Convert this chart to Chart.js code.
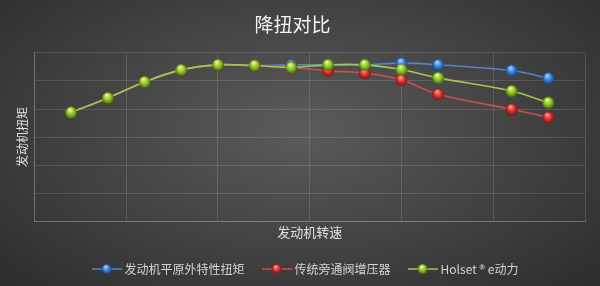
<!DOCTYPE html>
<html>
<head>
<meta charset="utf-8">
<script src="https://cdn.jsdelivr.net/npm/chart.js@4/dist/chart.umd.min.js"></script>
<style>
  html, body { margin: 0; padding: 0; }
  #wrap {
    width: 600px; height: 286px; position: relative;
    background: radial-gradient(ellipse 70% 80% at 50% 45%, #5b5b5b 0%, #464646 45%, #2c2c2c 100%);
  }
</style>
</head>
<body>
<div id="wrap"><canvas id="chart" width="600" height="286"></canvas></div>
<script>
// engine speed (rpm) and torque readings
const rpm = [700, 900, 1100, 1300, 1500, 1700, 1900, 2100, 2300, 2500, 2700, 3100, 3300];
const plainTorque = [1938, 2196, 2482, 2696, 2786, 2773, 2786, 2786, 2786, 2816, 2786, 2684, 2548];
const bypassTorque = [1938, 2196, 2482, 2696, 2786, 2773, 2741, 2679, 2638, 2518, 2263, 1995, 1852];
const holsetTorque = [1938, 2196, 2482, 2696, 2786, 2773, 2741, 2786, 2786, 2702, 2554, 2321, 2113];

const seriesNames = ['发动机平原外特性扭矩', '传统旁通阀增压器', 'Holset ® e动力'];
const lineColors = ['#4f86c6', '#c9504c', '#a8c34e'];
const ballColors = [
    ['#a9d0ff', '#3b7fd6', '#1a4485'],
    ['#ff9d99', '#d8322c', '#7e1512'],
    ['#e3ff9a', '#8fc42a', '#4c6e0c'],
];

const FONT = '"Noto Sans CJK SC", "Noto Sans", sans-serif';

// small shaded ball used as point marker
const makeBall = (cols, r) => {
    const c = document.createElement('canvas');
    c.width = r * 2 + 2;
    c.height = r * 2 + 2;
    const g = c.getContext('2d');
    const cx = r + 1, cy = r + 1;
    const grad = g.createRadialGradient(cx - r * 0.2, cy - r * 0.5, 0.5, cx, cy, r);
    grad.addColorStop(0, cols[0]);
    grad.addColorStop(0.55, cols[1]);
    grad.addColorStop(1, cols[2]);
    g.fillStyle = grad;
    g.beginPath();
    g.arc(cx, cy, r, 0, Math.PI * 2);
    g.fill();
    return c;
};

// line + ball for the legend
const makeLegendMark = (lineCol, cols) => {
    const c = document.createElement('canvas');
    c.width = 30;
    c.height = 12;
    const g = c.getContext('2d');
    g.strokeStyle = lineCol;
    g.lineWidth = 1.5;
    g.beginPath();
    g.moveTo(0, 6);
    g.lineTo(30, 6);
    g.stroke();
    g.drawImage(makeBall(cols, 5), 15 - 6, 0);
    return c;
};

const balls = ballColors.map(cols => makeBall(cols, 6));
const legendMarks = ballColors.map((cols, i) => makeLegendMark(lineColors[i], cols));

const toPoints = (ys) => ys.map((y, i) => ({ x: rpm[i], y: y }));
const allSeries = [plainTorque, bypassTorque, holsetTorque];

const datasets = allSeries.map((ys, i) => ({
    label: seriesNames[i],
    data: toPoints(ys),
    borderColor: lineColors[i],
    borderWidth: 1.6,
    tension: 0.35,
    pointStyle: balls[i],
    pointRadius: 6,
    fill: false,
    order: 3 - i, // green drawn on top
}));

const gridColor = 'rgba(255,255,255,0.13)';

// nudge the legend a bit right, like the original
const legendShift = {
    id: 'legendShift',
    afterLayout: (chart) => {
        chart.legend.left += 14;
        chart.legend.right += 14;
    },
};

new Chart(document.getElementById('chart'), {
    type: 'line',
    data: { datasets: datasets },
    plugins: [legendShift],
    options: {
        responsive: false,
        animation: false,
        layout: { padding: { left: 0, right: 15, top: 0, bottom: 1 } },
        scales: {
            x: {
                type: 'linear',
                min: 500,
                max: 3500,
                ticks: { display: false, stepSize: 500 },
                grid: { color: gridColor, drawTicks: false },
                border: { color: 'rgba(255,255,255,0.18)' },
                title: {
                    display: true,
                    text: '发动机转速',
                    color: '#e0e0e0',
                    font: { family: FONT, size: 13 },
                    padding: { top: 3, bottom: 3 },
                },
            },
            y: {
                min: 0,
                max: 3000,
                ticks: { display: false, stepSize: 500 },
                grid: { color: gridColor, drawTicks: false },
                border: { color: 'rgba(255,255,255,0.18)' },
                title: {
                    display: true,
                    text: '发动机扭矩',
                    color: '#e0e0e0',
                    font: { family: FONT, size: 12 },
                    padding: { top: 15, bottom: 5 },
                },
            },
        },
        plugins: {
            title: {
                display: true,
                text: '降扭对比',
                color: '#f4f4f4',
                font: { family: FONT, size: 19, weight: 'normal' },
                padding: { top: 13, bottom: 17 },
            },
            legend: {
                position: 'bottom',
                labels: {
                    color: '#d4d4d4',
                    font: { family: FONT, size: 12 },
                    usePointStyle: true,
                    pointStyleWidth: 24,
                    padding: 20,
                    sort: (a, b) => a.datasetIndex - b.datasetIndex,
                    generateLabels: (chart) => {
                        const items = Chart.defaults.plugins.legend.labels.generateLabels(chart);
                        items.forEach((item) => { item.pointStyle = legendMarks[item.datasetIndex]; });
                        return items;
                    },
                },
            },
            tooltip: { enabled: false },
        },
    },
});
</script>
</body>
</html>
